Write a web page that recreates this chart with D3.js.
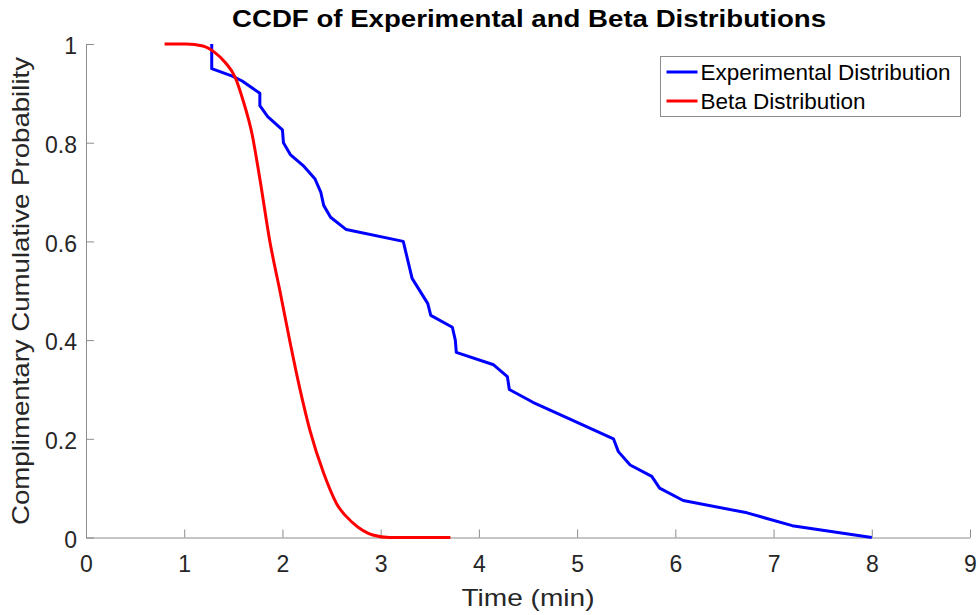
<!DOCTYPE html>
<html>
<head>
<meta charset="utf-8">
<script src="https://cdn.jsdelivr.net/npm/d3@7"></script>
<style>
  html, body { margin: 0; padding: 0; background: #fff; }
  svg { display: block; font-family: "Liberation Sans", Arial, sans-serif; }
</style>
</head>
<body>
<script>
// experimental CCDF (time in min, probability)
var expTime = [1.28, 1.28, 1.49, 1.59, 1.77, 1.77, 1.85, 2.00, 2.01, 2.08, 2.22, 2.33, 2.39, 2.42, 2.49, 2.65,
  3.23, 3.32, 3.48, 3.51, 3.73, 3.76, 3.77, 4.15, 4.29, 4.31, 4.55, 4.86, 5.37, 5.42, 5.54, 5.76, 5.84,
  6.08, 6.73, 7.19, 8.00];
var expProb = [1.00, 0.95, 0.935, 0.925, 0.90, 0.875, 0.853, 0.826, 0.80, 0.776, 0.752, 0.727, 0.70, 0.673, 0.649, 0.624,
  0.60, 0.525, 0.474, 0.45, 0.426, 0.40, 0.375, 0.35, 0.326, 0.30, 0.274, 0.246, 0.20, 0.174, 0.147, 0.124, 0.10,
  0.075, 0.05, 0.024, 0.00];

// fitted beta CCDF
var betaTime = [0.80, 1.02, 1.19, 1.31, 1.42, 1.52, 1.60, 1.69, 1.77, 1.87, 1.98, 2.08, 2.18, 2.28, 2.42, 2.55,
  2.72, 2.92, 3.09, 3.71];
var betaProb = [1.0, 1.0, 0.996, 0.983, 0.962, 0.932, 0.885, 0.818, 0.727, 0.602, 0.494, 0.393, 0.299, 0.217, 0.13, 0.069,
  0.029, 0.005, 0.0, 0.0];

var xTicks = [0, 1, 2, 3, 4, 5, 6, 7, 8, 9];
var yTicks = [0, 0.2, 0.4, 0.6, 0.8, 1];
var seriesNames = ["Experimental Distribution", "Beta Distribution"];
var seriesColors = ["#0000ff", "#ff0000"];

var width = 980, height = 615;
var axisColor = "#8c8c8c", textColor = "#262626";

var svg = d3.select("body").append("svg")
  .attr("width", width)
  .attr("height", height);

var x = d3.scaleLinear().domain([0, 9]).range([86, 970]);
var y = d3.scaleLinear().domain([0, 1]).range([537.5, 44]);

// x axis (ticks pointing inward)
var gx = svg.append("g")
  .attr("transform", "translate(0," + y(0) + ")")
  .call(d3.axisBottom(x).tickValues(xTicks).tickSizeInner(-8).tickSizeOuter(0).tickPadding(0));
gx.select(".domain").attr("stroke", axisColor);
gx.selectAll(".tick line").attr("stroke", axisColor);
gx.selectAll(".tick text")
  .attr("y", 34).attr("dy", null)
  .attr("fill", textColor)
  .style("font-size", "23px");

// y axis
var gy = svg.append("g")
  .attr("transform", "translate(" + x(0) + ",0)")
  .call(d3.axisLeft(y).tickValues(yTicks).tickSizeInner(-8).tickSizeOuter(0).tickFormat(d3.format("")));
gy.select(".domain").attr("stroke", axisColor);
gy.selectAll(".tick line").attr("stroke", axisColor);
gy.selectAll(".tick text")
  .attr("x", -9).attr("dy", "0.42em")
  .attr("fill", textColor)
  .style("font-size", "23px");

// curves
var line = d3.line()
  .x(function (d) { return x(d[0]); })
  .y(function (d) { return y(d[1]); });

var expPts = d3.zip(expTime, expProb);
var betaPts = d3.zip(betaTime, betaProb);

svg.append("path")
  .datum(expPts)
  .attr("fill", "none")
  .attr("stroke", seriesColors[0])
  .attr("stroke-width", 3)
  .attr("stroke-linejoin", "round")
  .attr("d", line);

svg.append("path")
  .datum(betaPts)
  .attr("fill", "none")
  .attr("stroke", seriesColors[1])
  .attr("stroke-width", 3)
  .attr("d", line.curve(d3.curveMonotoneX));

// title and labels
svg.append("text")
  .attr("x", 529).attr("y", 27)
  .attr("text-anchor", "middle")
  .attr("font-weight", "bold")
  .attr("textLength", 594).attr("lengthAdjust", "spacingAndGlyphs")
  .style("font-size", "23px")
  .attr("fill", "#000")
  .text("CCDF of Experimental and Beta Distributions");

svg.append("text")
  .attr("x", 528).attr("y", 606)
  .attr("text-anchor", "middle")
  .attr("textLength", 133).attr("lengthAdjust", "spacingAndGlyphs")
  .style("font-size", "24px")
  .attr("fill", textColor)
  .text("Time (min)");

svg.append("text")
  .attr("transform", "translate(29,291) rotate(-90)")
  .attr("text-anchor", "middle")
  .attr("textLength", 468).attr("lengthAdjust", "spacingAndGlyphs")
  .style("font-size", "24px")
  .attr("fill", textColor)
  .text("Complimentary Cumulative Probability");

// legend
var legend = svg.append("g").attr("transform", "translate(660.5,56.5)");
legend.append("rect")
  .attr("width", 300).attr("height", 60)
  .attr("fill", "#fff")
  .attr("stroke", "#8c8c8c");

var items = legend.selectAll("g.item")
  .data(seriesNames)
  .enter().append("g")
  .attr("class", "item")
  .attr("transform", function (d, i) { return "translate(0," + (15.5 + i * 29) + ")"; });

items.append("line")
  .attr("x1", 6).attr("x2", 37)
  .attr("stroke", function (d, i) { return seriesColors[i]; })
  .attr("stroke-width", 3);

items.append("text")
  .attr("x", 40).attr("dy", "0.36em")
  .style("font-size", "22.5px")
  .attr("fill", "#000")
  .text(function (d) { return d; });
</script>
</body>
</html>
